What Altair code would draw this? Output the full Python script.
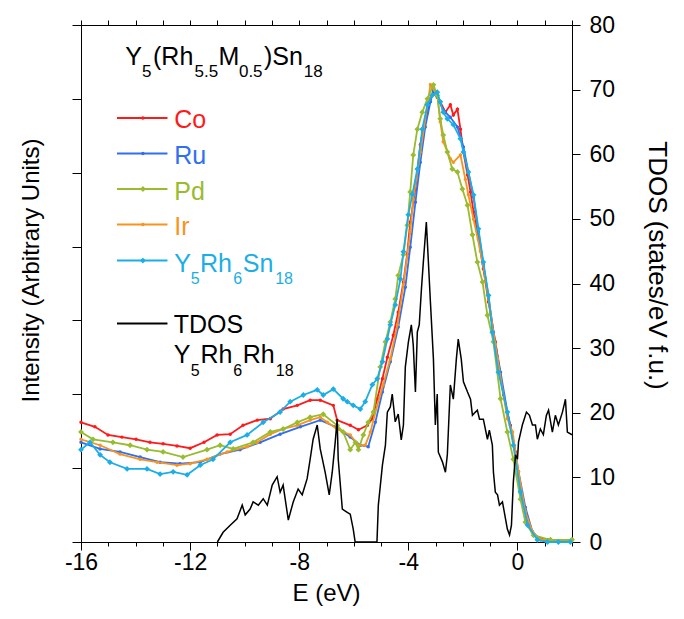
import altair as alt
import pandas as pd

# ---------------- data ----------------
# XPS valence band spectra (arbitrary units, left axis)
co_e = [-16.0, -15.49, -15.01, -14.5, -13.98, -13.47, -12.99, -12.48, -12.0, -11.49,
        -11.01, -10.53, -10.06, -9.54, -9.06, -8.59, -8.07, -7.6, -7.23, -6.75,
        -6.61, -6.13, -5.83, -5.5, -5.32, -5.14, -4.95, -4.77, -4.55, -4.37,
        -4.18, -4.04, -3.93, -3.74, -3.56, -3.45, -3.3, -3.19, -3.08, -2.83,
        -2.64, -2.46, -2.35, -2.2, -2.09, -1.98, -1.83, -1.72, -1.61, -1.43,
        -1.25, -1.06, -0.81, -0.51, -0.26, -0.07, 0.11, 0.37, 0.59, 1.1, 2.0]
co_i = [1.62, 1.56, 1.45, 1.42, 1.39, 1.35, 1.33, 1.30, 1.27, 1.35,
        1.45, 1.46, 1.58, 1.65, 1.67, 1.80, 1.85, 1.92, 1.92, 1.85,
        1.65, 1.58, 1.52, 1.58, 1.67, 1.94, 2.21, 2.50, 2.80, 3.11,
        3.52, 3.90, 4.33, 4.78, 5.38, 5.59, 5.82, 6.00, 6.09, 5.96,
        5.82, 5.92, 5.78, 5.86, 5.59, 5.28, 4.97, 4.74, 4.47, 4.10,
        3.70, 3.25, 2.71, 1.99, 1.58, 1.22, 0.68, 0.27, 0.09, 0.03, 0.03]

ru_e = [-16.0, -15.30, -14.57, -13.83, -13.10, -12.37, -11.63, -10.90, -10.17, -9.43,
        -8.70, -7.96, -7.23, -6.68, -6.13, -5.76, -5.47, -5.21, -4.95, -4.66,
        -4.37, -4.11, -3.93, -3.74, -3.56, -3.38, -3.19, -3.08, -2.94, -2.72,
        -2.46, -2.20, -1.98, -1.80, -1.61, -1.43, -1.25, -1.06, -0.88, -0.62,
        -0.37, -0.18, 0.04, 0.29, 0.55, 0.84, 2.0]
ru_i = [1.35, 1.26, 1.22, 1.15, 1.08, 1.06, 1.08, 1.19, 1.25, 1.35,
        1.46, 1.56, 1.65, 1.56, 1.42, 1.31, 1.29, 1.62, 2.03, 2.44,
        2.91, 3.45, 3.99, 4.60, 5.14, 5.62, 5.96, 6.12, 6.02, 5.85,
        5.75, 5.62, 5.35, 5.01, 4.67, 4.20, 3.76, 3.32, 2.84, 2.30,
        1.76, 1.42, 0.95, 0.47, 0.14, 0.03, 0.03]

pd_e = [-16.0, -15.56, -14.83, -14.20, -13.58, -12.99, -12.26, -11.38, -10.90, -10.42,
        -9.69, -9.06, -8.59, -8.07, -7.60, -7.12, -6.61, -6.39, -6.13, -5.94,
        -5.83, -5.65, -5.47, -5.28, -5.03, -4.84, -4.66, -4.48, -4.37, -4.18,
        -4.04, -3.93, -3.82, -3.67, -3.49, -3.30, -3.08, -2.94, -2.83, -2.72,
        -2.57, -2.39, -2.20, -2.02, -1.83, -1.65, -1.47, -1.28, -1.10, -0.88,
        -0.62, -0.37, -0.15, 0.11, 0.29, 0.59, 1.21, 2.0]
pd_i = [1.49, 1.39, 1.35, 1.31, 1.25, 1.22, 1.15, 1.25, 1.31, 1.26,
        1.35, 1.49, 1.53, 1.62, 1.69, 1.73, 1.58, 1.49, 1.25, 1.35,
        1.25, 1.45, 1.62, 1.76, 2.37, 2.71, 2.98, 3.29, 3.61, 3.89,
        4.29, 4.74, 5.24, 5.59, 5.82, 6.00, 6.19, 6.05, 5.73, 5.51,
        5.28, 5.05, 5.01, 4.78, 4.56, 4.16, 3.79, 3.52, 3.07, 2.71,
        1.94, 1.49, 1.12, 0.58, 0.27, 0.09, 0.03, 0.03]

ir_e = [-16.0, -15.30, -14.57, -13.83, -13.21, -12.48, -12.00, -11.38, -10.64, -9.91,
        -9.54, -9.06, -8.59, -8.07, -7.60, -7.23, -6.97, -6.61, -6.13, -5.83,
        -5.58, -5.39, -5.14, -4.92, -4.66, -4.40, -4.18, -3.93, -3.82, -3.56,
        -3.30, -3.19, -2.94, -2.83, -2.72, -2.46, -2.35, -2.09, -1.91, -1.80,
        -1.61, -1.36, -1.17, -0.99, -0.81, -0.73, -0.37, -0.18, 0.04, 0.29,
        0.55, 0.84, 2.0]
ir_i = [1.39, 1.31, 1.19, 1.12, 1.08, 1.04, 1.06, 1.12, 1.22, 1.29,
        1.35, 1.46, 1.53, 1.58, 1.65, 1.69, 1.62, 1.53, 1.45, 1.31,
        1.31, 1.49, 1.85, 2.13, 2.48, 2.94, 3.48, 4.20, 4.64, 5.28,
        5.92, 6.19, 6.05, 5.69, 5.42, 5.19, 5.14, 5.24, 4.91, 4.70,
        4.37, 3.94, 3.56, 3.11, 2.67, 2.48, 1.67, 1.49, 0.95, 0.41,
        0.14, 0.03, 0.03]

yrs_e = [-16.0, -15.67, -15.30, -14.94, -14.31, -13.58, -13.10, -12.62, -12.11, -11.63,
         -11.16, -10.53, -9.91, -9.32, -8.70, -8.33, -7.85, -7.34, -7.12, -6.75,
         -6.39, -6.24, -6.02, -5.76, -5.58, -5.32, -5.14, -4.95, -4.77, -4.66,
         -4.48, -4.29, -4.18, -4.00, -3.85, -3.67, -3.49, -3.30, -3.12, -2.94,
         -2.83, -2.72, -2.57, -2.35, -2.09, -1.98, -1.80, -1.61, -1.43, -1.25,
         -1.06, -0.92, -0.70, -0.37, -0.15, 0.11, 0.37, 0.73, 1.10, 1.50, 1.94]
yrs_i = [1.25, 1.35, 1.18, 1.08, 0.99, 0.99, 0.92, 0.95, 0.91, 1.04,
         1.12, 1.35, 1.45, 1.62, 1.76, 1.90, 1.99, 2.06, 1.99, 2.07,
         1.94, 1.90, 1.85, 1.80, 1.90, 2.13, 2.21, 2.44, 2.75, 2.94,
         3.21, 3.56, 3.93, 4.43, 4.71, 5.05, 5.59, 5.92, 6.05, 6.09,
         5.96, 5.82, 5.73, 5.65, 5.46, 5.28, 5.01, 4.70, 4.24, 3.79,
         3.34, 2.84, 2.30, 1.76, 1.31, 0.68, 0.23, 0.03, 0.0, 0.0, 0.0]

# calculated total DOS (right axis)
tdos_e = [-11.0, -10.79, -10.53, -10.28, -10.09, -9.98, -9.80, -9.69, -9.50, -9.32,
          -9.17, -8.99, -8.81, -8.70, -8.59, -8.40, -8.22, -8.04, -7.89, -7.71,
          -7.60, -7.49, -7.34, -7.23, -7.05, -6.90, -6.79, -6.68, -6.61, -6.57,
          -6.42, -6.24, -6.13, -6.02, -5.95, -5.15, -5.10, -4.95, -4.84, -4.77,
          -4.66, -4.59, -4.48, -4.37, -4.26, -4.18, -4.11, -4.00, -3.89, -3.82,
          -3.74, -3.67, -3.60, -3.52, -3.45, -3.34, -3.27, -3.19, -3.08, -3.01,
          -2.94, -2.90, -2.75, -2.64, -2.57, -2.46, -2.35, -2.24, -2.17, -2.06,
          -1.98, -1.83, -1.72, -1.65, -1.54, -1.47, -1.39, -1.25, -1.10, -1.03,
          -0.92, -0.88, -0.81, -0.73, -0.66, -0.55, -0.48, -0.37, -0.29, -0.22,
          -0.15, -0.07, 0.0, 0.04, 0.18, 0.33, 0.44, 0.55, 0.66, 0.73,
          0.84, 0.95, 1.06, 1.14, 1.28, 1.39, 1.50, 1.65, 1.76, 1.83, 2.0]
tdos_v = [0, 1.5, 2.6, 3.6, 5.7, 4.2, 5.1, 6.2, 5.7, 6.7,
          5.7, 8.8, 10.1, 7.7, 8.8, 3.4, 6.2, 8.2, 7.3, 9.8,
          12.8, 15.9, 18.1, 14.4, 10.8, 7.3, 10.8, 15.5, 19.0, 12.8,
          5.1, 4.6, 4.3, 2.0, 0, 0, 5.7, 11.9, 15.0, 20.1,
          20.9, 22.9, 18.6, 19.8, 15.8, 18.1, 27.1, 30.9, 33.6, 30.5,
          23.2, 32.5, 33.6, 39.1, 43.3, 49.5, 43.8, 37.1, 28.3, 18.1,
          22.9, 13.9, 12.4, 10.8, 13.5, 24.3, 22.1, 28.3, 31.4, 28.3,
          24.8, 23.2, 22.1, 19.6, 20.1, 20.4, 19.0, 19.0, 15.9, 17.3,
          15.0, 10.8, 7.7, 7.3, 5.7, 6.2, 4.6, 2.0, 1.1, 2.6,
          9.3, 13.5, 12.8, 15.5, 18.1, 20.1, 19.6, 18.1, 18.1, 15.9,
          17.5, 16.6, 19.6, 20.4, 17.0, 19.6, 18.1, 20.1, 22.1, 17.0, 16.6]

series_names = ["Co", "Ru", "Pd", "Ir", "Y5Rh6Sn18"]
series_colors = ["#FF1A1A", "#2F6FF0", "#99BB2E", "#F7931E", "#1BAEE6"]
series_shapes = ["circle", "circle", "diamond", "circle", "diamond"]
series_sizes = [12, 12, 34, 12, 34]
series_data = [(co_e, co_i), (ru_e, ru_i), (pd_e, pd_i), (ir_e, ir_i), (yrs_e, yrs_i)]
draw_order = ["Co", "Ru", "Ir", "Pd", "Y5Rh6Sn18"]

# legend / annotation layout (in data units)
legend_line_y = [5.74, 5.26, 4.78, 4.30, 3.81]
tdos_line_y = 2.96
legend_x0, legend_x1, legend_xm = -14.68, -12.83, -13.73

FONT = "Liberation Sans"
BIG, SUB = 25, 16

text_rows = [
    # title  Y5(Rh5.5M0.5)Sn18
    ("Y", -14.38, 6.46, BIG, "black"), ("5", -13.76, 6.30, 17, "black"),
    ("(Rh", -13.36, 6.46, BIG, "black"), ("5.5", -11.84, 6.30, 17, "black"),
    ("M", -10.96, 6.46, BIG, "black"), ("0.5", -10.21, 6.30, 17, "black"),
    (")Sn", -9.29, 6.46, BIG, "black"), ("18", -7.83, 6.30, 17, "black"),
    # series labels
    ("Co", -12.58, 5.61, BIG, series_colors[0]),
    ("Ru", -12.58, 5.12, BIG, series_colors[1]),
    ("Pd", -12.58, 4.63, BIG, series_colors[2]),
    ("Ir", -12.58, 4.16, BIG, series_colors[3]),
    ("Y", -12.58, 3.66, BIG, series_colors[4]), ("5", -11.98, 3.50, SUB, series_colors[4]),
    ("Rh", -11.64, 3.66, BIG, series_colors[4]), ("6", -10.42, 3.50, SUB, series_colors[4]),
    ("Sn", -10.07, 3.66, BIG, series_colors[4]), ("18", -8.88, 3.50, SUB, series_colors[4]),
    # TDOS label
    ("TDOS", -12.60, 2.83, BIG, "black"),
    ("Y", -12.60, 2.42, BIG, "black"), ("5", -11.98, 2.25, SUB, "black"),
    ("Rh", -11.62, 2.42, BIG, "black"), ("6", -10.42, 2.25, SUB, "black"),
    ("Rh", -10.07, 2.42, BIG, "black"), ("18", -8.86, 2.25, SUB, "black"),
]

# ---------------- scales and axes ----------------
xs = alt.Scale(domain=[-16, 2], nice=False, zero=False)
ys_left = alt.Scale(domain=[0, 7], nice=False, zero=False)
ys_right = alt.Scale(domain=[0, 80], nice=False, zero=False)

x_bottom = alt.Axis(
    orient="bottom", values=list(range(-16, 3)), title="E (eV)",
    labelExpr="datum.value % 4 === 0 ? toString(datum.value) : ''",
    tickSize={"condition": {"test": "datum.value % 4 === 0", "value": 8}, "value": 4},
    labelOverlap=False, labelFlush=False, labelPadding=1, labelFontSize=23,
    titleX=245, titleY=51, titleAlign="center", titleBaseline="middle",
)
y_left = alt.Axis(
    orient="left", values=list(range(0, 8)), labels=False, tickSize=9,
    title="Intensity (Arbitrary Units)", titleAngle=270,
    titleX=-50, titleY=245, titleAlign="center", titleBaseline="middle",
)
x_top = alt.Axis(orient="top", values=list(range(-16, 3)), labels=False, tickSize=5, title="")
y_right = alt.Axis(
    orient="right", values=list(range(0, 81, 10)), tickSize=8, labelPadding=9,
    labelFontSize=23,
    title="TDOS (states/eV f.u.)", titleAngle=90, titleFontSize=26,
    titleX=84, titleY=240, titleAlign="center", titleBaseline="middle",
)


def X():
    return alt.X("E:Q", scale=xs, axis=x_bottom)


def Y():
    return alt.Y("I:Q", scale=ys_left, axis=y_left)


layers = []
for name in draw_order:
    k = series_names.index(name)
    es, vs = series_data[k]
    df = pd.DataFrame({"E": es, "I": vs})
    base = alt.Chart(df)
    layers.append(base.mark_line(color=series_colors[k], strokeWidth=1.8).encode(x=X(), y=Y()))
    layers.append(
        base.mark_point(shape=series_shapes[k], filled=True, size=series_sizes[k],
                        color=series_colors[k], opacity=1).encode(x=X(), y=Y())
    )

# legend lines and markers
leg_df = pd.DataFrame({
    "E": [legend_x0] * 6,
    "E2": [legend_x1] * 6,
    "I": legend_line_y + [tdos_line_y],
    "color": series_colors + ["black"],
})
layers.append(
    alt.Chart(leg_df).mark_rule(strokeWidth=2).encode(
        x=X(), x2="E2:Q", y=Y(), color=alt.Color("color:N", scale=None))
)
legm_df = pd.DataFrame({
    "E": [legend_xm] * 5,
    "I": legend_line_y,
    "color": series_colors,
    "shape": series_shapes,
    "size": series_sizes,
})
layers.append(
    alt.Chart(legm_df).mark_point(filled=True, opacity=1).encode(
        x=X(), y=Y(), color=alt.Color("color:N", scale=None),
        shape=alt.Shape("shape:N", scale=None), size=alt.Size("size:Q", scale=None))
)

txt_df = pd.DataFrame(text_rows, columns=["text", "E", "I", "fs", "color"])
layers.append(
    alt.Chart(txt_df).mark_text(align="left", baseline="alphabetic", font=FONT).encode(
        x=X(), y=Y(), text="text:N",
        size=alt.Size("fs:Q", scale=None), color=alt.Color("color:N", scale=None))
)

spectra = alt.layer(*layers)

tdos_df = pd.DataFrame({"E": tdos_e, "T": tdos_v})
tdos = alt.Chart(tdos_df).mark_line(color="black", strokeWidth=1.5).encode(
    x=alt.X("E:Q", scale=xs, axis=x_top),
    y=alt.Y("T:Q", scale=ys_right, axis=y_right),
)

chart = (
    alt.layer(spectra, tdos)
    .resolve_scale(x="independent", y="independent")
    .properties(
        width=491, height=517, autosize="none",
        padding={"left": 81, "top": 25, "right": 112, "bottom": 77},
    )
    .configure_view(stroke="black", strokeWidth=1)
    .configure_axis(
        labelFont=FONT, titleFont=FONT, labelFontSize=24, titleFontSize=24,
        labelColor="black", titleColor="black", titleFontWeight="normal",
        domainColor="black", tickColor="black", domainWidth=1, tickWidth=1, grid=False,
    )
)

chart.save("out.html", embed_options={"renderer": "svg", "actions": False})
